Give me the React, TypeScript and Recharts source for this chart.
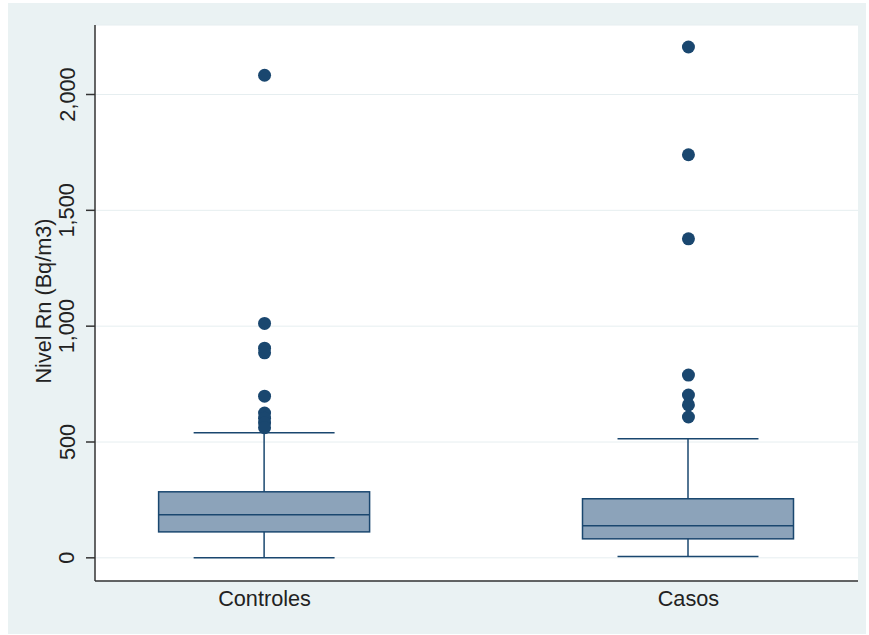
import React from 'react';
import { ComposedChart, Bar, Scatter, XAxis, YAxis, CartesianGrid, Label } from 'recharts';

// Radon level by group: box statistics and outside values
const groups = ['Controles', 'Casos'];
const groupPos = [1, 2];
const lowerWhisker = [0, 6];
const q1 = [112, 82];
const median = [186, 138];
const q3 = [285, 255];
const upperWhisker = [540, 514];
const outliersControles = [2083, 1012, 905, 885, 698, 625, 603, 582, 562];
const outliersCasos = [2205, 1740, 1377, 789, 703, 660, 608];
const yTicks = [0, 500, 1000, 1500, 2000];

const NAVY = '#1a476f';
const BOX_FILL = '#8ca3ba';
const TEXT = '#222';
const FONT = '"Liberation Sans", Arial, sans-serif';
const FONT_SIZE = 21.7;

const boxRows = groups.map((name, i) => ({
  name,
  pos: groupPos[i],
  lo: lowerWhisker[i],
  q1: q1[i],
  median: median[i],
  q3: q3[i],
  hi: upperWhisker[i],
}));

const outlierRows = (pos: number, vals: number[]) => vals.map((value) => ({ pos, value }));

const fmt = (v: number) => String(v).replace(/\B(?=(\d{3})+(?!\d))/g, ',');

// The bar spans whisker to whisker; everything else is placed on that same scale
const BoxShape = (props: any) => {
  const { x, y, width, height, payload } = props;
  const { lo, hi } = payload;
  const toY = (v: number) => y + (height * (hi - v)) / (hi - lo);
  const cx = x + width / 2;
  const capHalf = width * 0.334;
  const yq3 = toY(payload.q3);
  const yq1 = toY(payload.q1);
  const ym = toY(payload.median);
  return (
    <g>
      <line x1={cx} x2={cx} y1={toY(hi)} y2={toY(lo)} stroke={NAVY} strokeWidth={1.5} />
      <line x1={cx - capHalf} x2={cx + capHalf} y1={toY(hi)} y2={toY(hi)} stroke={NAVY} strokeWidth={1.5} />
      <line x1={cx - capHalf} x2={cx + capHalf} y1={toY(lo)} y2={toY(lo)} stroke={NAVY} strokeWidth={1.5} />
      <rect x={x} y={yq3} width={width} height={yq1 - yq3} fill={BOX_FILL} stroke={NAVY} strokeWidth={1.5} />
      <line x1={x} x2={x + width} y1={ym} y2={ym} stroke={NAVY} strokeWidth={1.5} />
    </g>
  );
};

const Dot = (props: any) => <circle cx={props.cx} cy={props.cy} r={6.5} fill={NAVY} />;

const YTick = ({ x, y, payload }: any) => {
  const tx = x - 17;
  return (
    <text x={tx} y={y} transform={`rotate(-90, ${tx}, ${y})`} textAnchor="middle" dominantBaseline="central"
      fontFamily={FONT} fontSize={FONT_SIZE} fill={TEXT}>
      {fmt(payload.value)}
    </text>
  );
};

const XTick = ({ x, y, payload }: any) => (
  <text x={x} y={y + 17} textAnchor="middle" dominantBaseline="central" fontFamily={FONT} fontSize={FONT_SIZE} fill={TEXT}>
    {groups[groupPos.indexOf(payload.value)]}
  </text>
);

const YTitle = (p: any) => {
  const vb = p.viewBox;
  const cy = vb.y + vb.height / 2 - 2;
  return (
    <text x={43} y={cy} transform={`rotate(-90, 43, ${cy})`} textAnchor="middle" dominantBaseline="central"
      fontFamily={FONT} fontSize={FONT_SIZE} fill={TEXT}>
      Nivel Rn (Bq/m3)
    </text>
  );
};

export default function App() {
  return (
    <div style={{ position: 'absolute', left: 0, top: 0, width: 869, height: 635, background: '#fff' }}>
      <div style={{ position: 'absolute', left: 8, top: 3, width: 858, height: 631, background: '#eaf2f3' }} />
      <div style={{ position: 'absolute', left: 0, top: 0 }}>
        <ComposedChart width={869} height={635} data={boxRows} margin={{ top: 25, right: 11, bottom: 14, left: 25 }}>
          <CartesianGrid vertical={false} fill="#ffffff" stroke="#e6eef0" strokeWidth={1} />
          <XAxis type="number" dataKey="pos" domain={[0.6, 2.4]} ticks={groupPos} tick={<XTick />}
            tickLine={false} tickSize={0} tickMargin={0} height={40} stroke="#333" strokeWidth={1.5} />
          <YAxis type="number" domain={[-100, 2300]} ticks={yTicks} tick={<YTick />} tickSize={9}
            width={70} stroke="#333" strokeWidth={1.5} allowDataOverflow>
            <Label content={<YTitle />} />
          </YAxis>
          <Bar dataKey={(d: any) => [d.lo, d.hi]} barSize={211} shape={<BoxShape />} isAnimationActive={false} />
          <Scatter data={outlierRows(1, outliersControles)} dataKey="value" shape={<Dot />} isAnimationActive={false} />
          <Scatter data={outlierRows(2, outliersCasos)} dataKey="value" shape={<Dot />} isAnimationActive={false} />
        </ComposedChart>
      </div>
    </div>
  );
}
